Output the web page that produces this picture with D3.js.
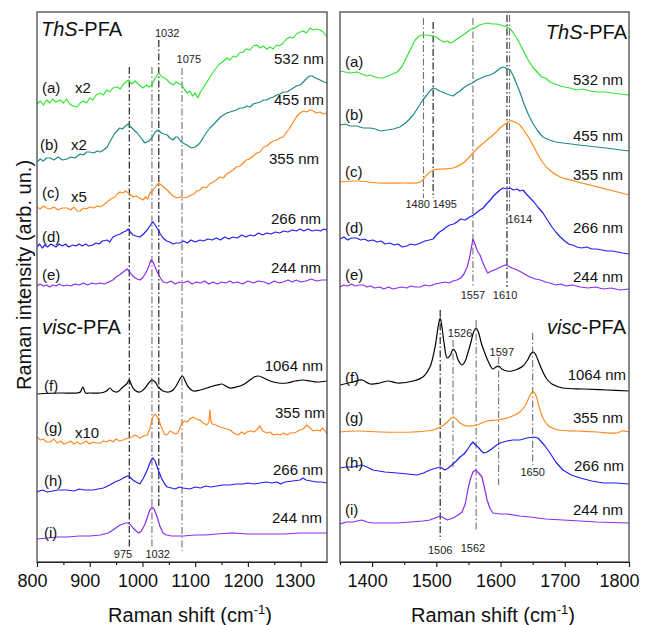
<!DOCTYPE html>
<html><head><meta charset="utf-8">
<script src="https://cdn.jsdelivr.net/npm/d3@7"></script>
<style>html,body{margin:0;padding:0;background:#fff}svg{display:block;font-family:Arial,"Liberation Sans",sans-serif}</style>
</head><body><svg id="c" width="646" height="625"></svg>
<script>
// ---------------- DATA (Raman shift cm-1, intensity arb. un.) ----------------
const leftTicks = [800, 900, 1000, 1100, 1200, 1300];
const leftMinor = [850, 950, 1050, 1150, 1250];
const rightTicks = [1400, 1500, 1600, 1700, 1800];
const rightMinor = [1350, 1450, 1550, 1650, 1750];

// Left panel (800-1350) – ThS-PFA
const L_a_532 = [[800,458],[806,461],[812,457],[818,462],[824,459],[830,463],[836,460],[844,462],[850,459],[856,463],[862,458],[868,456],[876,455],[882,459],[888,461],[894,459],[900,464],[906,462],[912,467],[920,469],[926,467],[932,472],[938,470],[944,474],[952,475],[958,473],[964,478],[973,482],[980,478],[986,481],[990,479],[996,476],[1001,474],[1008,477],[1012,475],[1018,477],[1024,484],[1031,489],[1037,485],[1042,484],[1047,482],[1052,479],[1058,477],[1064,480],[1070,478],[1075,477],[1080,472],[1085,469],[1090,471],[1095,466],[1100,469],[1105,464],[1110,470],[1115,474],[1120,478],[1127,484],[1134,490],[1140,494],[1146,498],[1152,500],[1160,504],[1166,502],[1172,506],[1178,505],[1184,509],[1191,510],[1197,513],[1204,512],[1210,516],[1217,517],[1223,514],[1229,516],[1236,513],[1242,515],[1248,513],[1254,517],[1260,516],[1267,519],[1273,523],[1280,525],[1286,524],[1292,528],[1299,530],[1305,531],[1311,529],[1318,534],[1324,532],[1330,533],[1337,532],[1343,530],[1350,525]];
const L_b_455 = [[800,400],[806,403],[812,401],[818,404],[825,404],[832,402],[840,405],[848,402],[857,403],[864,405],[872,404],[882,408],[888,407],[894,410],[900,410],[908,409],[914,411],[920,410],[926,412],[933,415],[940,422],[948,429],[952,431],[957,434],[962,433],[968,436],[973,438],[978,435],[984,432],[990,429],[996,425],[1000,422],[1005,419],[1012,421],[1018,424],[1024,430],[1030,432],[1036,429],[1041,428],[1047,427],[1052,424],[1058,422],[1063,425],[1067,425],[1072,421],[1077,419],[1084,417],[1090,415],[1094,414],[1100,415],[1105,417],[1109,419],[1116,425],[1122,430],[1128,434],[1134,437],[1141,441],[1148,445],[1154,447],[1160,449],[1166,450],[1172,451],[1178,452],[1185,454],[1191,454],[1198,456],[1204,455],[1210,458],[1217,459],[1223,460],[1230,462],[1236,462],[1242,464],[1248,465],[1255,467],[1261,468],[1267,470],[1274,470],[1280,472],[1286,474],[1292,476],[1299,477],[1305,480],[1312,484],[1317,486],[1322,486],[1328,484],[1337,482],[1344,480],[1350,479]];
const L_c_355 = [[800,355],[806,353],[812,356],[818,354],[825,353],[832,355],[840,352],[848,354],[857,354],[864,352],[870,355],[876,351],[882,351],[888,354],[894,353],[900,355],[908,354],[914,356],[920,355],[926,357],[933,360],[940,363],[948,365],[952,368],[957,370],[963,369],[968,371],[973,369],[978,367],[982,365],[988,366],[994,364],[1001,362],[1006,365],[1010,363],[1014,369],[1020,372],[1026,376],[1031,379],[1038,376],[1042,374],[1047,372],[1052,369],[1058,366],[1066,364],[1072,365],[1078,364],[1085,365],[1092,367],[1098,368],[1103,371],[1109,372],[1115,375],[1121,374],[1127,378],[1134,380],[1140,382],[1147,385],[1153,384],[1160,388],[1166,390],[1172,392],[1178,395],[1185,396],[1191,399],[1197,402],[1203,403],[1210,406],[1217,409],[1223,410],[1230,415],[1236,416],[1242,419],[1248,421],[1255,422],[1261,424],[1267,425],[1272,429],[1278,433],[1285,439],[1292,445],[1299,449],[1305,451],[1311,450],[1318,452],[1324,451],[1330,449],[1337,450],[1343,448],[1350,449]];
const L_d_266 = [[800,315],[805,318],[810,314],[815,317],[820,315],[826,318],[830,317],[836,315],[842,318],[848,316],[854,318],[860,315],[868,317],[874,316],[880,318],[886,316],[892,318],[898,316],[906,317],[912,319],[918,318],[924,321],[933,322],[938,320],[944,325],[952,327],[958,328],[964,330],[969,331],[973,333],[977,330],[982,327],[988,326],[995,325],[1002,328],[1009,332],[1014,336],[1018,339],[1020,340],[1024,337],[1030,332],[1034,328],[1039,324],[1046,321],[1052,320],[1058,318],[1064,319],[1071,319],[1078,321],[1085,319],[1092,322],[1100,320],[1109,322],[1116,321],[1124,323],[1132,322],[1140,324],[1148,322],[1156,325],[1164,323],[1172,325],[1180,324],[1188,327],[1196,325],[1204,327],[1212,326],[1220,329],[1228,327],[1236,329],[1244,328],[1252,330],[1260,329],[1268,331],[1276,330],[1284,332],[1292,331],[1299,333],[1306,331],[1314,333],[1322,331],[1330,332],[1338,331],[1344,333],[1350,332]];
const L_e_244 = [[800,276],[806,278],[812,276],[818,277],[824,275],[830,277],[836,276],[842,278],[850,276],[857,277],[864,276],[872,278],[880,277],[888,279],[896,277],[904,279],[912,278],[920,279],[928,278],[936,280],[944,282],[950,285],[956,287],[961,289],[966,291],[971,293],[976,290],[980,287],[986,284],[990,283],[995,282],[1000,284],[1005,288],[1009,292],[1013,297],[1016,302],[1020,300],[1024,295],[1028,290],[1033,285],[1039,280],[1046,279],[1054,281],[1062,278],[1070,280],[1077,279],[1086,281],[1094,278],[1102,280],[1110,279],[1118,281],[1126,278],[1134,280],[1142,278],[1150,280],[1158,279],[1166,281],[1172,279],[1180,280],[1190,278],[1200,281],[1210,279],[1220,281],[1230,280],[1240,278],[1250,281],[1260,279],[1267,280],[1276,282],[1284,280],[1292,282],[1300,280],[1310,281],[1320,283],[1330,281],[1340,282],[1350,282]];
// Left panel – visc-PFA
const L_f_1064 = [[800,168],[844,169],[876,169],[882,170],[887,175],[892,169],[900,169],[920,169],[932,171],[938,174],[944,171],[952,170],[963,175],[970,178],[975,182],[980,176],[985,172],[995,170],[1005,174],[1012,179],[1018,182],[1024,180],[1030,175],[1039,171],[1050,170],[1058,172],[1065,177],[1071,183],[1076,186],[1081,181],[1087,175],[1096,171],[1110,172],[1122,174],[1134,176],[1142,177],[1151,178],[1158,176],[1166,174],[1178,175],[1190,177],[1204,182],[1212,185],[1220,186],[1230,184],[1242,181],[1258,179],[1274,179],[1290,181],[1305,182],[1318,181],[1331,180],[1350,181]];
const L_g_355 = [[800,125],[806,122],[812,123],[818,120],[825,120],[832,123],[838,119],[845,121],[851,118],[857,119],[864,121],[870,118],[876,120],[882,118],[887,119],[893,121],[900,118],[906,120],[912,119],[920,119],[926,121],[932,120],[938,122],[944,120],[950,123],[957,121],[963,122],[968,123],[973,124],[980,125],[985,127],[990,126],[995,124],[1002,126],[1009,127],[1014,133],[1018,142],[1021,146],[1024,148],[1028,145],[1033,139],[1038,132],[1043,127],[1048,128],[1052,131],[1056,130],[1062,128],[1067,129],[1071,134],[1075,139],[1080,141],[1085,140],[1090,143],[1096,145],[1102,143],[1109,142],[1115,139],[1122,137],[1126,140],[1128,152],[1130,140],[1132,138],[1140,137],[1147,135],[1154,134],[1160,133],[1166,132],[1173,129],[1181,127],[1188,130],[1194,128],[1198,130],[1205,131],[1212,130],[1218,133],[1223,136],[1228,131],[1236,129],[1242,130],[1248,127],[1255,128],[1261,127],[1268,129],[1274,127],[1280,129],[1286,129],[1292,130],[1298,132],[1305,133],[1312,137],[1318,134],[1324,131],[1331,132],[1337,131],[1342,134],[1346,131],[1350,128]];
const L_h_266 = [[800,70],[810,72],[820,70],[830,71],[840,72],[857,72],[870,71],[880,73],[890,72],[906,72],[916,73],[926,74],[938,77],[948,80],[957,82],[964,84],[971,86],[976,85],[982,82],[988,80],[995,78],[1002,84],[1009,92],[1014,99],[1018,103],[1020,104],[1024,101],[1030,92],[1036,84],[1042,78],[1047,75],[1055,74],[1062,73],[1070,75],[1077,74],[1090,73],[1100,75],[1110,74],[1120,76],[1130,75],[1141,76],[1152,77],[1165,77],[1178,78],[1190,78],[1200,79],[1212,78],[1223,79],[1235,80],[1245,79],[1255,80],[1262,78],[1270,80],[1285,81],[1299,82],[1305,84],[1310,82],[1320,81],[1330,80],[1340,80],[1350,79]];
const L_i_244 = [[800,23],[820,24],[840,25],[857,25],[880,26],[900,26],[920,27],[935,29],[944,32],[952,35],[958,37],[963,38],[968,39],[973,39],[978,37],[982,34],[988,31],[993,29],[998,31],[1005,38],[1010,46],[1014,52],[1018,55],[1022,53],[1028,45],[1033,36],[1039,29],[1046,27],[1055,26],[1077,26],[1100,27],[1120,27],[1141,28],[1170,29],[1200,28],[1236,28],[1270,28],[1300,29],[1330,29],[1350,29]];

// Right panel (1350-1800) – ThS-PFA
const R_a_532 = [[1350,491],[1358,490],[1366,489],[1376,490],[1384,488],[1392,486],[1397,487],[1404,485],[1411,484],[1417,484],[1424,486],[1432,488],[1439,490],[1446,495],[1454,505],[1460,513],[1467,522],[1473,526],[1479,527],[1486,527],[1493,526],[1500,525],[1506,522],[1512,520],[1518,521],[1521,519],[1526,520],[1532,523],[1537,525],[1544,528],[1552,532],[1560,534],[1567,537],[1573,538],[1580,539],[1587,538],[1594,538],[1600,537],[1606,536],[1610,535],[1615,533],[1619,530],[1626,523],[1635,512],[1642,503],[1650,495],[1657,490],[1664,485],[1670,484],[1677,480],[1685,478],[1693,476],[1700,475],[1708,474],[1718,472],[1728,473],[1740,471],[1750,470],[1762,470],[1774,469],[1786,468],[1800,467]];
const R_b_455 = [[1350,437],[1358,438],[1366,436],[1376,436],[1386,434],[1397,434],[1405,433],[1413,431],[1423,432],[1433,433],[1443,435],[1450,438],[1457,442],[1464,447],[1470,453],[1475,458],[1479,462],[1484,466],[1490,471],[1495,474],[1500,473],[1505,471],[1510,470],[1516,468],[1521,467],[1526,466],[1532,469],[1537,471],[1542,474],[1549,477],[1556,479],[1563,482],[1570,484],[1577,486],[1584,487],[1590,489],[1596,492],[1600,494],[1604,495],[1608,494],[1612,493],[1615,492],[1620,486],[1625,478],[1630,470],[1636,459],[1643,448],[1650,439],[1658,431],[1666,425],[1676,422],[1686,420],[1697,419],[1710,418],[1722,417],[1736,416],[1750,415],[1764,414],[1776,413],[1788,412],[1800,411]];
const R_c_355 = [[1350,380],[1376,381],[1412,379],[1448,379],[1475,380],[1485,387],[1495,392],[1510,393],[1526,394],[1542,399],[1557,409],[1568,416],[1579,422],[1590,428],[1599,434],[1607,438],[1615,441],[1622,440],[1630,437],[1638,430],[1646,422],[1656,410],[1666,399],[1678,391],[1693,385],[1715,381],[1739,377],[1770,372],[1800,367]];
const R_d_266 = [[1350,323],[1356,325],[1362,322],[1368,324],[1376,324],[1382,322],[1388,323],[1394,321],[1401,322],[1408,320],[1414,321],[1420,318],[1428,319],[1434,317],[1440,318],[1447,315],[1454,316],[1460,318],[1467,317],[1475,319],[1482,321],[1489,322],[1495,323],[1500,327],[1505,330],[1510,332],[1516,335],[1521,337],[1527,338],[1532,340],[1538,343],[1545,342],[1552,345],[1558,347],[1564,350],[1568,352],[1573,354],[1578,358],[1584,362],[1589,366],[1594,369],[1599,372],[1604,374],[1610,373],[1615,374],[1620,372],[1626,373],[1630,371],[1635,372],[1640,368],[1646,364],[1652,360],[1658,355],[1666,349],[1672,343],[1680,335],[1686,330],[1693,325],[1700,321],[1706,318],[1712,317],[1719,315],[1726,314],[1734,315],[1742,313],[1750,313],[1758,312],[1766,311],[1774,311],[1782,310],[1790,309],[1800,308]];
const R_e_244 = [[1350,275],[1356,277],[1362,276],[1368,278],[1374,276],[1380,277],[1386,277],[1392,275],[1398,276],[1404,274],[1412,275],[1418,273],[1426,275],[1432,273],[1439,274],[1446,275],[1454,274],[1460,276],[1467,275],[1475,275],[1482,277],[1490,276],[1498,278],[1506,279],[1514,280],[1520,279],[1526,281],[1532,282],[1538,284],[1543,288],[1548,295],[1552,305],[1555,316],[1557,323],[1560,318],[1564,311],[1568,307],[1572,300],[1576,294],[1580,289],[1586,291],[1590,292],[1594,293],[1600,295],[1607,297],[1612,296],[1618,294],[1626,292],[1632,290],[1640,287],[1646,285],[1654,283],[1662,282],[1670,280],[1677,279],[1686,277],[1694,278],[1702,276],[1712,277],[1724,275],[1736,274],[1748,275],[1760,273],[1772,274],[1786,272],[1800,273]];
// Right panel – visc-PFA
const R_f_1064 = [[1350,177],[1370,180],[1384,182],[1397,178],[1412,179],[1425,181],[1439,179],[1464,181],[1479,185],[1490,195],[1498,215],[1503,236],[1506,244],[1509,234],[1512,219],[1517,204],[1522,207],[1526,213],[1530,210],[1534,202],[1540,197],[1545,201],[1549,209],[1554,220],[1558,230],[1562,234],[1566,229],[1570,219],[1576,208],[1582,199],[1588,193],[1593,195],[1597,196],[1602,193],[1610,191],[1618,191],[1627,193],[1635,196],[1642,202],[1647,208],[1651,210],[1655,207],[1660,199],[1666,190],[1672,183],[1680,178],[1697,174],[1730,173],[1765,172],[1800,171]];
const R_g_355 = [[1350,130],[1376,131],[1412,130],[1464,130],[1495,132],[1509,136],[1517,140],[1523,144],[1527,145],[1531,143],[1537,139],[1548,136],[1563,137],[1579,141],[1594,142],[1615,145],[1630,150],[1638,156],[1644,164],[1648,169],[1652,170],[1656,165],[1661,153],[1666,144],[1675,136],[1690,132],[1720,131],[1750,130],[1781,129],[1789,131],[1800,130]];
const R_h_266 = [[1350,94],[1360,95],[1370,95],[1384,97],[1392,95],[1401,92],[1420,90],[1439,89],[1455,88],[1470,87],[1480,89],[1490,92],[1500,94],[1506,95],[1513,92],[1519,94],[1524,97],[1531,101],[1537,105],[1543,108],[1548,112],[1553,117],[1557,120],[1561,117],[1565,115],[1570,111],[1574,109],[1579,110],[1584,112],[1592,116],[1599,119],[1610,121],[1619,122],[1630,122],[1641,124],[1652,125],[1658,124],[1661,122],[1668,117],[1677,109],[1686,100],[1697,92],[1710,87],[1724,84],[1742,81],[1760,79],[1780,79],[1800,78]];
const R_i_244 = [[1350,38],[1360,40],[1370,40],[1384,42],[1392,40],[1401,39],[1420,39],[1439,39],[1460,40],[1479,41],[1490,42],[1498,44],[1506,46],[1512,44],[1517,42],[1526,44],[1534,47],[1540,50],[1545,58],[1549,72],[1553,83],[1557,90],[1561,92],[1566,89],[1571,85],[1575,74],[1579,62],[1584,53],[1588,49],[1600,48],[1610,48],[1630,46],[1646,45],[1670,43],[1697,42],[1750,40],[1800,39]];

// Peak marker lines: [shift, intensity top, intensity bottom, kind]
const L_peaks = [[975,495,14,"k"],[1018,495,15,"g"],[1031,522,55,"k"],[1075,494,11,"g"]];
const R_peaks = [[1480,544,364,"g"],[1495,540,364,"k"],[1557,544,275,"g"],[1610,547,275,"k"],[1614,547,349,"g"],
                 [1506,252,22,"k"],[1526,222,95,"g"],[1562,242,32,"g"],[1597,205,77,"g"],[1650,229,97,"g"]];
// Peak labels: [text, shift, intensity]
const L_peakLabels = [["1032",1047,525],["1075",1088,499],["975",963,4],["1032",1029,4]];
const R_peakLabels = [["1480",1471,354],["1495",1513,354],["1614",1630,339],["1557",1557,263],["1610",1607,263],
                      ["1526",1537,225],["1597",1602,206],["1650",1650,86],["1506",1506,8],["1562",1557,10]];

// ---------------- DRAWING ----------------
const C = {green:"#33e533", teal:"#1e8a8a", orange:"#ff8a1e", blue:"#2020f0", purple:"#8a2cf0", black:"#000"};
const svg = d3.select("#c");
const yTop = 12, yBot = 562;
const y = d3.scaleLinear().domain([0, 550]).range([yBot, yTop]);
const xL = d3.scaleLinear().domain([800, 1350]).range([37, 327]);
const xR = d3.scaleLinear().domain([1350, 1800]).range([340, 629]);

const defs = svg.append("defs");
[["clipL", xL], ["clipR", xR]].forEach(([id, xs]) => {
  defs.append("clipPath").attr("id", id).append("rect")
    .attr("x", xs.range()[0]).attr("y", yTop).attr("width", xs.range()[1] - xs.range()[0]).attr("height", yBot - yTop);
});

function drawSeries(xs, clip, list) {
  const g = svg.append("g").attr("clip-path", `url(#${clip})`);
  list.forEach(([data, color, smooth]) => {
    const line = d3.line().x(d => xs(d[0])).y(d => y(d[1]))
      .curve(smooth ? d3.curveCatmullRom.alpha(0.5) : d3.curveLinear);
    g.append("path").attr("d", line(data)).attr("fill", "none")
      .attr("stroke", color).attr("stroke-width", 1.2).attr("stroke-linejoin", "round");
  });
}
function drawPeaks(xs, peaks) {
  peaks.forEach(([s, a, b, k]) => {
    svg.append("line").attr("x1", xs(s)).attr("x2", xs(s)).attr("y1", y(a)).attr("y2", y(b))
      .attr("stroke", k === "k" ? "#111" : "#707070").attr("stroke-width", 1.1)
      .attr("stroke-dasharray", "7,2.5,1.5,2.5");
  });
}
function drawPeakLabels(xs, labels) {
  labels.forEach(([t, s, v]) => {
    svg.append("text").attr("x", xs(s)).attr("y", y(v)).attr("text-anchor", "middle")
      .attr("font-size", 11).attr("fill", "#222").text(t);
  });
}

drawPeaks(xL, L_peaks);
drawPeaks(xR, R_peaks);

drawSeries(xL, "clipL", [
  [L_a_532, C.green], [L_b_455, C.teal], [L_c_355, C.orange], [L_d_266, C.blue], [L_e_244, C.purple],
  [L_f_1064, C.black, true], [L_g_355, C.orange], [L_h_266, C.blue], [L_i_244, C.purple]
]);
drawSeries(xR, "clipR", [
  [R_a_532, C.green], [R_b_455, C.teal], [R_c_355, C.orange, true], [R_d_266, C.blue], [R_e_244, C.purple],
  [R_f_1064, C.black, true], [R_g_355, C.orange, true], [R_h_266, C.blue], [R_i_244, C.purple]
]);

drawPeakLabels(xL, L_peakLabels);
drawPeakLabels(xR, R_peakLabels);

// Frames and axes
[xL, xR].forEach(xs => {
  svg.append("rect").attr("x", xs.range()[0]).attr("y", yTop)
    .attr("width", xs.range()[1] - xs.range()[0]).attr("height", yBot - yTop)
    .attr("fill", "none").attr("stroke", "#555").attr("stroke-width", 1.4);
});
function drawAxis(xs, major, minor, lastShift) {
  const gMaj = svg.append("g").attr("transform", `translate(0,${yBot})`)
    .call(d3.axisBottom(xs).tickValues(major).tickSize(5).tickPadding(7).tickSizeOuter(0).tickFormat(d3.format("d")));
  gMaj.select(".domain").attr("stroke", "#222").attr("stroke-width", 1.2);
  gMaj.selectAll(".tick line").attr("stroke", "#222").attr("stroke-width", 1.2);
  gMaj.selectAll(".tick text").attr("font-size", 18).attr("font-family", 'Arial,"Liberation Sans",sans-serif')
    .attr("fill", "#111").attr("dx", (d, i) => i === major.length - 1 ? lastShift : -5);
  const gMin = svg.append("g").attr("transform", `translate(0,${yBot})`)
    .call(d3.axisBottom(xs).tickValues(minor).tickSize(3).tickFormat("").tickSizeOuter(0));
  gMin.select(".domain").remove();
  gMin.selectAll(".tick line").attr("stroke", "#222").attr("stroke-width", 1.2);
}
drawAxis(xL, leftTicks, leftMinor, -6);
drawAxis(xR, rightTicks, rightMinor, -10);

// Axis titles
function xTitle(cx) {
  const t = svg.append("text").attr("x", cx).attr("y", 622).attr("text-anchor", "middle").attr("font-size", 20).attr("fill", "#111");
  t.append("tspan").text("Raman shift (cm");
  t.append("tspan").attr("font-size", 13).attr("dy", -8).text("-1");
  t.append("tspan").attr("dy", 8).text(")");
}
xTitle(190);
xTitle(493);
svg.append("text").attr("transform", "translate(31,275) rotate(-90)").attr("text-anchor", "middle")
  .attr("font-size", 20).attr("fill", "#111").text("Raman intensity (arb. un.)");

// Panel titles
function title(x, yy, it, rest, anchor) {
  const t = svg.append("text").attr("x", x).attr("y", yy).attr("font-size", 20).attr("fill", "#111").attr("text-anchor", anchor);
  t.append("tspan").attr("font-style", "italic").text(it);
  t.append("tspan").text(rest);
}
title(41, 36, "ThS", "-PFA", "start");
title(42, 334, "visc", "-PFA", "start");
title(627, 39, "ThS", "-PFA", "end");
title(626, 334, "visc", "-PFA", "end");

// Curve letters, factors, wavelengths: [text, x, baseline, anchor]
const labels = [
  ["(a)",42,93,"start"],["x2",75,93,"start"],["(b)",40,150,"start"],["x2",71,150,"start"],
  ["(c)",42,198,"start"],["x5",71,202,"start"],["(d)",42,242,"start"],["(e)",42,280,"start"],
  ["(f)",44,391,"start"],["(g)",44,433,"start"],["x10",75,438,"start"],["(h)",44,486,"start"],["(i)",44,538,"start"],
  ["532 nm",324,64,"end"],["455 nm",324,105,"end"],["355 nm",319,164,"end"],["266 nm",321,224,"end"],["244 nm",321,273,"end"],
  ["1064 nm",323,371,"end"],["355 nm",325,418,"end"],["266 nm",323,475,"end"],["244 nm",322,523,"end"],
  ["(a)",345,67,"start"],["(b)",345,120,"start"],["(c)",345,177,"start"],["(d)",345,233,"start"],["(e)",345,280,"start"],
  ["(f)",345,383,"start"],["(g)",345,423,"start"],["(h)",345,468,"start"],["(i)",345,515,"start"],
  ["532 nm",623,85,"end"],["455 nm",623,141,"end"],["355 nm",623,180,"end"],["266 nm",623,233,"end"],["244 nm",623,282,"end"],
  ["1064 nm",626,380,"end"],["355 nm",623,423,"end"],["266 nm",624,471,"end"],["244 nm",623,515,"end"]
];
labels.forEach(([t, x, yy, a]) => {
  svg.append("text").attr("x", x).attr("y", yy).attr("text-anchor", a).attr("font-size", 15).attr("fill", "#111").text(t);
});
</script></body></html>
